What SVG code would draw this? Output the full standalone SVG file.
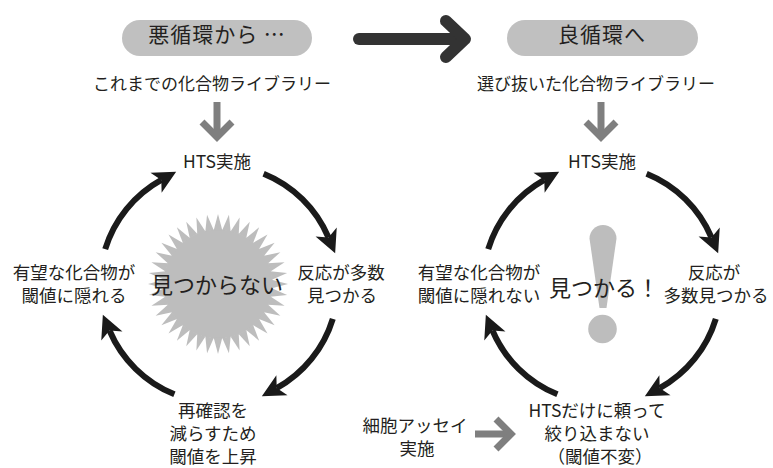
<svg xmlns="http://www.w3.org/2000/svg" xmlns:xlink="http://www.w3.org/1999/xlink" width="773" height="468" viewBox="0 0 773 468">
<style>
text{font-family:"Noto Sans CJK JP","Noto Sans",sans-serif;fill:#231f20;text-anchor:middle}
.lb{font-size:17.5px}
.tp{font-size:17px}
.pl{font-size:21px;letter-spacing:1px}
.big{font-size:22px}
.pill{fill:#c0c0c0}
.gr{fill:#bdbdbd}
.cyc{fill:none;stroke:#1a1a1a;stroke-width:6}
.ga{fill:none;stroke:#7f7f7f;stroke-width:7;stroke-linejoin:miter}
</style>
<defs>
<marker id="ah" markerUnits="userSpaceOnUse" markerWidth="40" markerHeight="40" refX="0" refY="0" orient="auto" overflow="visible">
<path d="M17 0 L-6 -11.5 L0 0 L-6 11.5 Z" fill="#1a1a1a"/>
</marker>
<polygon id="spike" points="0,-70 -4.3,-53.8 4.3,-53.8"/>
</defs>
<rect width="773" height="468" fill="#fff"/>

<g id="burst" class="gr" transform="translate(218,284)">
<circle r="54.5"/>
<use href="#spike"/><use href="#spike" transform="rotate(9)"/><use href="#spike" transform="rotate(18)"/><use href="#spike" transform="rotate(27)"/><use href="#spike" transform="rotate(36)"/><use href="#spike" transform="rotate(45)"/><use href="#spike" transform="rotate(54)"/><use href="#spike" transform="rotate(63)"/><use href="#spike" transform="rotate(72)"/><use href="#spike" transform="rotate(81)"/>
<use href="#spike" transform="rotate(90)"/><use href="#spike" transform="rotate(99)"/><use href="#spike" transform="rotate(108)"/><use href="#spike" transform="rotate(117)"/><use href="#spike" transform="rotate(126)"/><use href="#spike" transform="rotate(135)"/><use href="#spike" transform="rotate(144)"/><use href="#spike" transform="rotate(153)"/><use href="#spike" transform="rotate(162)"/><use href="#spike" transform="rotate(171)"/>
<use href="#spike" transform="rotate(180)"/><use href="#spike" transform="rotate(189)"/><use href="#spike" transform="rotate(198)"/><use href="#spike" transform="rotate(207)"/><use href="#spike" transform="rotate(216)"/><use href="#spike" transform="rotate(225)"/><use href="#spike" transform="rotate(234)"/><use href="#spike" transform="rotate(243)"/><use href="#spike" transform="rotate(252)"/><use href="#spike" transform="rotate(261)"/>
<use href="#spike" transform="rotate(270)"/><use href="#spike" transform="rotate(279)"/><use href="#spike" transform="rotate(288)"/><use href="#spike" transform="rotate(297)"/><use href="#spike" transform="rotate(306)"/><use href="#spike" transform="rotate(315)"/><use href="#spike" transform="rotate(324)"/><use href="#spike" transform="rotate(333)"/><use href="#spike" transform="rotate(342)"/><use href="#spike" transform="rotate(351)"/>
</g>

<g id="exclaim" class="gr">
<path d="M589.5 238.5 A13.5 13.5 0 0 1 616.5 238.5 L606.5 308 L599.5 308 Z"/>
<circle cx="602.5" cy="329" r="14.3"/>
</g>

<g id="connectors">
<g id="big-arrow" fill="none" stroke="#333" stroke-width="12" stroke-linecap="round" stroke-linejoin="round">
<line x1="359" y1="39" x2="463" y2="39"/>
<polyline points="446,21 465,39 446,57"/>
</g>
<g class="ga">
<line x1="217" y1="102" x2="217" y2="134"/>
<polyline points="202,122 217,137 232,122"/>
<line x1="601" y1="102" x2="601" y2="134"/>
<polyline points="586,122 601,137 616,122"/>
<line x1="475" y1="434" x2="508" y2="434"/>
<polyline points="496,419 511,434 496,449"/>
</g>
<g class="cyc" marker-end="url(#ah)">
<path d="M263.6 173.7 A119 119 0 0 1 328.5 237.5"/>
<path d="M332.8 318.8 A119 119 0 0 1 276.7 388.1"/>
<path d="M174.4 394.3 A119 119 0 0 1 109.5 330.5"/>
<path d="M105.2 249.2 A119 119 0 0 1 161.3 179.9"/>
<path d="M646.6 173.7 A119 119 0 0 1 711.5 237.5"/>
<path d="M715.8 318.8 A119 119 0 0 1 659.7 388.1"/>
<path d="M557.4 394.3 A119 119 0 0 1 492.5 330.5"/>
<path d="M488.2 249.2 A119 119 0 0 1 544.3 179.9"/>
</g>
</g>

<g id="pill-left"><rect class="pill" x="122" y="20" width="190" height="36" rx="18"/><text class="pl" x="217" y="42">悪循環から …</text></g>
<g id="pill-right"><rect class="pill" x="507" y="20" width="191" height="36" rx="18"/><text class="pl" x="602" y="42">良循環へ</text></g>

<g id="lib-left"><text class="tp" x="212" y="90">これまでの化合物ライブラリー</text></g>
<g id="lib-right"><text class="tp" x="596" y="90">選び抜いた化合物ライブラリー</text></g>

<g id="hts-left"><text class="lb" x="217" y="168">HTS実施</text></g>
<g id="hts-right"><text class="lb" x="602" y="168">HTS実施</text></g>

<g id="hidden-left"><text class="lb" x="74" y="279">有望な化合物が</text><text class="lb" x="74" y="302">閾値に隠れる</text></g>
<g id="many-left"><text class="lb" x="341" y="279">反応が多数</text><text class="lb" x="342" y="302">見つかる</text></g>
<g id="raise-left"><text class="lb" x="213" y="417">再確認を</text><text class="lb" x="213" y="440">減らすため</text><text class="lb" x="213" y="463">閾値を上昇</text></g>
<g id="notfound"><text class="big" x="217" y="293">見つからない</text></g>

<g id="hidden-right"><text class="lb" x="479" y="279">有望な化合物が</text><text class="lb" x="479" y="302">閾値に隠れない</text></g>
<g id="many-right"><text class="lb" x="714" y="279">反応が</text><text class="lb" x="716" y="302">多数見つかる</text></g>
<g id="keep-right"><text class="lb" x="597" y="417">HTSだけに頼って</text><text class="lb" x="597" y="440">絞り込まない</text><text class="lb" x="600" y="463">（閾値不変）</text></g>
<g id="found"><text class="big" x="604" y="296">見つかる！</text></g>
<g id="cell"><text class="lb" x="415" y="432">細胞アッセイ</text><text class="lb" x="417" y="455">実施</text></g>
</svg>
